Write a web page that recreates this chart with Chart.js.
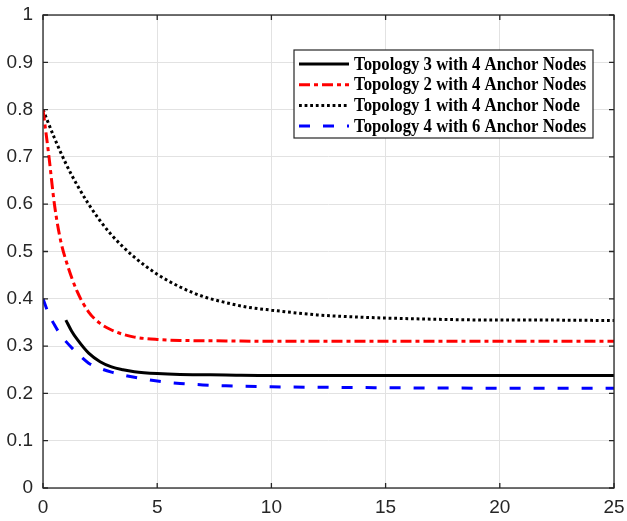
<!DOCTYPE html>
<html lang="en">
<head>
    <meta charset="UTF-8">
    <title>Topology comparison</title>
    <script src="https://cdn.jsdelivr.net/npm/chart.js"></script>
    <style>
        html, body { margin: 0; padding: 0; background: #fff; }
        canvas { display: block; }
    </style>
</head>
<body>
    <canvas id="topoChart" width="627" height="521"></canvas>

    <script>
        // values
        const topo3X = [1, 1.25, 1.5, 2, 2.5, 3, 3.5, 4, 5, 6, 8, 10, 15, 20, 25];
        const topo3Y = [0.355, 0.332, 0.314, 0.285, 0.267, 0.256, 0.250, 0.246, 0.242, 0.240, 0.239, 0.238, 0.238, 0.238, 0.238];

        const topo2X = [0, 0.25, 0.5, 0.75, 1, 1.5, 2, 2.5, 3, 3.5, 4, 5, 6, 8, 10, 15, 20, 25];
        const topo2Y = [0.800, 0.705, 0.600, 0.528, 0.482, 0.415, 0.372, 0.348, 0.334, 0.325, 0.319, 0.314, 0.312, 0.311, 0.310, 0.310, 0.310, 0.310];

        const topo1X = [0, 0.5, 1, 1.5, 2, 2.5, 3, 3.5, 4, 5, 6, 7, 8, 9, 10, 12, 14, 16, 18, 20, 22, 25];
        const topo1Y = [0.800, 0.740, 0.686, 0.640, 0.600, 0.565, 0.535, 0.510, 0.488, 0.452, 0.425, 0.405, 0.392, 0.382, 0.376, 0.366, 0.361, 0.358, 0.356, 0.355, 0.355, 0.354];

        const topo4X = [0, 0.25, 0.5, 0.75, 1, 1.5, 2, 2.5, 3, 3.5, 4, 5, 6, 7, 8, 10, 12, 15, 20, 25];
        const topo4Y = [0.400, 0.368, 0.345, 0.325, 0.310, 0.285, 0.264, 0.253, 0.245, 0.239, 0.234, 0.226, 0.221, 0.218, 0.216, 0.214, 0.213, 0.212, 0.211, 0.211];

        const seriesLabels = [
            'Topology 3 with 4 Anchor Nodes',
            'Topology 2 with 4 Anchor Nodes',
            'Topology 1 with 4 Anchor Node',
            'Topology 4 with 6 Anchor Nodes'
        ];
        const xTicks = [0, 5, 10, 15, 20, 25];
        const yTicks = [0, 0.1, 0.2, 0.3, 0.4, 0.5, 0.6, 0.7, 0.8, 0.9, 1];

        const axisColor = '#262626';
        const gridColor = '#e2e2e2';

        function points(xs, ys) {
            return xs.map((x, i) => ({ x: x, y: ys[i] }));
        }

        function noPad(s) {
            s.paddingLeft = 0;
            s.paddingRight = 0;
            s.paddingTop = 0;
            s.paddingBottom = 0;
        }

        // box, inward ticks and the legend, matlab style
        const matlabBox = {
            id: 'matlabBox',
            afterDatasetsDraw(chart) {
                const { ctx, chartArea: a, scales } = chart;
                ctx.save();
                ctx.strokeStyle = axisColor;
                ctx.lineWidth = 1.3;
                ctx.strokeRect(a.left, a.top, a.right - a.left, a.bottom - a.top);
                const len = 5;
                ctx.beginPath();
                xTicks.forEach(v => {
                    const px = scales.x.getPixelForValue(v);
                    ctx.moveTo(px, a.bottom); ctx.lineTo(px, a.bottom - len);
                    ctx.moveTo(px, a.top); ctx.lineTo(px, a.top + len);
                });
                yTicks.forEach(v => {
                    const py = scales.y.getPixelForValue(v);
                    ctx.moveTo(a.left, py); ctx.lineTo(a.left + len, py);
                    ctx.moveTo(a.right, py); ctx.lineTo(a.right - len, py);
                });
                ctx.stroke();
                ctx.restore();
            },
            afterDraw(chart) {
                const ctx = chart.ctx;
                const bx = 294, by = 50, bw = 299, bh = 88;
                ctx.save();
                ctx.fillStyle = '#fff';
                ctx.fillRect(bx, by, bw, bh);
                ctx.strokeStyle = axisColor;
                ctx.lineWidth = 1.2;
                ctx.strokeRect(bx, by, bw, bh);
                chart.data.datasets.forEach((ds, i) => {
                    const y = by + 14 + i * 20.7;
                    ctx.beginPath();
                    ctx.strokeStyle = ds.borderColor;
                    ctx.lineWidth = ds.borderWidth;
                    ctx.setLineDash(ds.borderDash || []);
                    ctx.moveTo(bx + 5, y);
                    ctx.lineTo(bx + 55, y);
                    ctx.stroke();
                    ctx.setLineDash([]);
                    // the reference face is a bit narrower than Liberation Serif
                    ctx.save();
                    ctx.translate(bx + 60, y + 1);
                    ctx.scale(0.93, 1);
                    ctx.font = 'bold 18px "Liberation Serif", "Times New Roman", serif';
                    ctx.textBaseline = 'middle';
                    ctx.fillStyle = '#000';
                    ctx.fillText(ds.label, 0, 0);
                    ctx.restore();
                });
                ctx.restore();
            }
        };

        const ctx = document.getElementById('topoChart').getContext('2d');
        const topoChart = new Chart(ctx, {
            type: 'line',
            data: {
                datasets: [{
                    label: seriesLabels[0],
                    data: points(topo3X, topo3Y),
                    borderColor: '#000000',
                    borderWidth: 3
                }, {
                    label: seriesLabels[1],
                    data: points(topo2X, topo2Y),
                    borderColor: '#ff0000',
                    borderWidth: 3,
                    borderDash: [11, 4, 4, 4]
                }, {
                    label: seriesLabels[2],
                    data: points(topo1X, topo1Y),
                    borderColor: '#000000',
                    borderWidth: 3,
                    borderDash: [2.8, 2.8]
                }, {
                    label: seriesLabels[3],
                    data: points(topo4X, topo4Y),
                    borderColor: '#0000ff',
                    borderWidth: 3,
                    borderDash: [11, 13]
                }]
            },
            options: {
                responsive: false,
                animation: false,
                elements: {
                    point: { radius: 0 },
                    line: { cubicInterpolationMode: 'monotone', fill: false }
                },
                layout: { padding: { top: 15, right: 13, left: 0, bottom: 0 } },
                plugins: {
                    legend: { display: false },
                    tooltip: { enabled: false }
                },
                scales: {
                    x: {
                        type: 'linear',
                        min: 0,
                        max: 25,
                        afterBuildTicks: s => { s.ticks = xTicks.map(v => ({ value: v })); },
                        afterFit: s => { s.height = 33; noPad(s); },
                        grid: { color: gridColor, lineWidth: 1, drawTicks: false },
                        border: { display: false },
                        ticks: {
                            padding: 8,
                            maxRotation: 0,
                            color: axisColor,
                            font: { family: '"Liberation Sans", Arial, sans-serif', size: 19 }
                        }
                    },
                    y: {
                        type: 'linear',
                        min: 0,
                        max: 1,
                        afterBuildTicks: s => { s.ticks = yTicks.map(v => ({ value: v })); },
                        afterFit: s => { s.width = 43; noPad(s); },
                        grid: { color: gridColor, lineWidth: 1, drawTicks: false },
                        border: { display: false },
                        ticks: {
                            padding: 10,
                            color: axisColor,
                            callback: v => String(Math.round(v * 10) / 10),
                            font: { family: '"Liberation Sans", Arial, sans-serif', size: 19 }
                        }
                    }
                }
            },
            plugins: [matlabBox]
        });
    </script>
</body>
</html>
